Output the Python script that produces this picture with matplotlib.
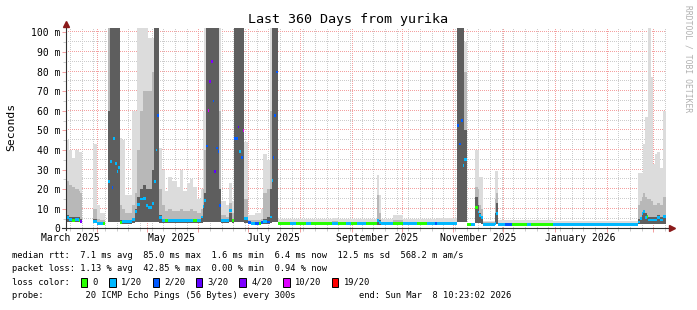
import datetime as dt
import numpy as np
import matplotlib
matplotlib.use('Agg')
import matplotlib.pyplot as plt
from matplotlib.patches import Rectangle

nan = np.nan

#------------------------------
#values (x in days since START, y in ms)
START = dt.datetime(2025, 3, 13, 10, 23, 2)
END_DAY = 360.0

seg_day = [0.6, 2.0, 3.8, 5.6, 7.7, 8.6, 9.6, 16.4, 18.6, 20.6,
           22.6, 23.8, 25.6, 26.6, 27.8, 28.6, 29.6, 30.6, 31.6, 32.6,
           33.6, 35.6, 39.6, 41.6, 42.8, 44.3, 46.4, 48.0, 49.6, 51.6,
           53.0, 54.2, 55.0, 55.8, 57.6, 59.6, 61.6, 63.8, 66.6, 68.6,
           70.6, 72.6, 74.6, 76.6, 78.6, 80.9, 82.1, 83.0, 84.2, 85.2,
           86.2, 87.2, 88.2, 89.2, 90.2, 91.2, 92.2, 93.2, 96.2, 98.0,
           99.8, 101.2, 103.1, 104.1, 105.1, 106.1, 107.1, 109.1, 111.2, 113.6,
           116.0, 117.2, 118.6, 120.6, 122.6, 123.6, 124.2, 125.2, 126.2, 127.1,
           127.6, 134.6, 138.2, 144.2, 147.2, 159.8, 163.4, 168.2, 171.2, 174.8,
           180.2, 186.5, 187.7, 188.9, 196.4, 202.4, 210.6, 216.6, 221.5, 223.0,
           234.5, 236.1, 237.1, 238.1, 239.1, 240.6, 243.2, 245.6, 247.1, 248.1,
           249.2, 250.6, 257.3, 258.2, 259.6, 263.6, 267.8, 276.8, 279.2, 292.4,
           343.6, 344.8, 345.8, 346.6, 347.6, 348.6, 349.5, 351.0, 352.2, 353.4,
           354.8, 356.4, 358.4]

median = [5.5, 4.5, 4.0, 4.5, 4.0, 3.6, nan, 3.5, 2.5, 2.3,
          2.3, nan, 24, 34, 21, 46, 33, 29, 31, 3.0,
          3.5, 3.5, 4.5, 8.5, 12, 15, 15.3, 11.7, 10.7, 12.7,
          24, 40, 57.6, 5.5, 3.8, 3.8, 3.8, 3.8, 3.8, 3.8,
          3.8, 3.8, 3.8, 3.8, 3.8, 5.8, 11, 14, 42, 60,
          75, 85, 65, 29, 41, 39, 11.7, 3.8, 3.8, 9,
          3.8, 46, 51.7, 39, 36, 50, 5, 2.8, 2.5, 2.5,
          2.5, 2.8, 3.5, 3.2, 5.8, 24.5, 36, 57.7, 79.7, 11,
          2.4, 2.4, 2.4, 2.4, 2.4, 2.4, 2.4, 2.4, 2.4, 2.4,
          2.4, 4, 3, 2.4, 2.4, 2.4, 2.4, 2.4, 2.4, 2.4,
          52.5, 43, 55, 32, 35, 2.0, 2.0, 10.5, 8.3, 6.6,
          5.6, 2.0, 2.5, 7.5, 2.0, 2.0, 1.9, 2.0, 2.0, 2.0,
          3.2, 5, 7.5, 8.5, 5.6, 6, 4.2, 4.2, 4.2, 4.2,
          5.6, 4.3, 6]

loss = [1, 1, 0, 1, 0, 4, 0, 1, 1, 1,
        0, 0, 1, 1, 2, 1, 1, 1, 1, 0,
        1, 1, 1, 1, 1, 1, 1, 1, 1, 1,
        1, 1, 2, 1, 1, 0, 1, 1, 1, 1,
        1, 1, 1, 0, 1, 1, 1, 1, 2, 5,
        4, 4, 2, 3, 2, 2, 2, 1, 1, 1,
        0, 2, 3, 1, 2, 5, 1, 2, 1, 2,
        0, 2, 1, 2, 1, 1, 2, 2, 2, 1,
        0, 1, 0, 1, 0, 1, 0, 1, 0, 1,
        0, 1, 1, 1, 0, 1, 0, 1, 2, 1,
        2, 2, 2, 1, 1, 0, 1, 0, 1, 1,
        1, 1, 1, 1, 1, 2, 0, 1, 0, 1,
        1, 1, 1, 1, 1, 0, 1, 1, 1, 1,
        1, 1, 1]

smoke_lo = [3, 3, 3, 3, 3, 3, nan, 2.5, 2, 2,
            2, nan, 3, 3, 3, 3, 3, 3, 3, 2,
            2, 2, 2.5, 3, 3, 3, 3, 3, 3, 3,
            3, 3, 3, 2.5, 2.5, 2.5, 2.5, 2.5, 2.5, 2.5,
            2.5, 2.5, 2.5, 2.5, 2.5, 2.5, 3, 3, 3, 3,
            3, 3, 3, 3, 3, 3, 3, 2.5, 2.5, 3,
            2.5, 3, 3, 3, 3, 3, 2.5, 2, 2, 2,
            2, 2, 2, 2, 2.5, 3, 3, 3, 3, 3,
            1.5, 1.5, 1.5, 1.5, 1.5, 1.5, 1.5, 1.5, 1.5, 1.5,
            1.5, 1.5, 1.5, 1.5, 1.5, 1.5, 1.5, 1.5, 1.5, 1.5,
            3, 3, 3, 3, 3, 1.8, 1.8, 2.5, 2.5, 2.5,
            2, 1.5, 2, 2, 1.2, 1.2, 1.2, 1.2, 1.2, 1.2,
            2, 2, 2, 2, 2, 2, 2, 2, 2, 2,
            2, 2, 2]

# lightest smoke top (max ping)
smoke_1 = [45, 40, 36, 40, 39, 39, nan, 43, 12, 8,
           8, nan, 102, 102, 102, 102, 102, 102, 102, 46,
           45, 17, 60, 60, 102, 102, 102, 102, 97, 97,
           102, 102, 102, 41, 30, 19, 26, 24, 21, 30,
           19, 23, 25, 21, 15, 20, 60, 102, 102, 102,
           102, 102, 102, 102, 102, 102, 102, 14, 12, 23,
           14, 102, 102, 102, 102, 102, 44, 7, 7, 8,
           8, 10, 38, 35, 102, 102, 102, 102, 102, 102,
           5, 4.5, 4.5, 4.5, 4.5, 5.5, 4.5, 4.5, 4.5, 4.5,
           4.5, 27, 17, 4.5, 7, 4.5, 4.5, 4.5, 4.5, 5.5,
           102, 102, 102, 102, 95, 2.8, 2.8, 40, 40, 26,
           26, 3.5, 29, 29, 4, 4, 4, 4, 4, 3.5,
           28, 28, 28, 43, 57, 57, 102, 77, 33, 38,
           39, 31, 60]

# middle smoke top
smoke_2 = [24, 22, 21, 20, 19, 18, nan, 10, 5, 4,
           4, nan, 102, 102, 102, 102, 102, 102, 102, 12,
           10, 8, 12, 18, 40, 60, 70, 70, 70, 80,
           102, 102, 102, 20, 12, 9, 10, 9, 9, 10,
           9, 9, 10, 9, 8, 10, 20, 40, 102, 102,
           102, 102, 102, 102, 102, 102, 60, 7, 6, 13,
           8, 102, 102, 102, 102, 102, 15, 4, 4, 4,
           4, 5, 18, 20, 60, 102, 102, 102, 102, 102,
           3.3, 3.2, 3.2, 3.2, 3.2, 3.5, 3.2, 3.2, 3.2, 3.2,
           3.2, 17, 8, 3.2, 4, 3.2, 3.2, 3.2, 3.2, 3.2,
           102, 102, 102, 102, 80, 2.5, 2.5, 21, 20, 12,
           10, 3, 15, 18, 2.8, 2.8, 2.8, 2.8, 2.8, 2.8,
           12, 14, 16, 18, 16, 15, 15, 14, 12, 12,
           13, 12, 16]

# dark smoke top
smoke_3 = [7, 6, 6, 6, 6, 5, nan, 4.5, 3, 3,
           3, nan, 60, 102, 102, 102, 102, 102, 102, 4,
           4, 4, 5.5, 10, 16, 20, 22, 20, 20, 30,
           102, 102, 102, 7, 5, 4.6, 4.6, 4.6, 4.6, 4.6,
           4.6, 4.6, 4.6, 4.6, 4.6, 6, 12, 18, 102, 102,
           102, 102, 102, 102, 102, 102, 20, 4.3, 4.3, 8,
           4.6, 102, 102, 102, 102, 102, 6, 3, 3, 3,
           3, 3, 5, 6, 20, 102, 102, 102, 102, 102,
           2.8, 2.8, 2.8, 2.8, 2.8, 2.8, 2.8, 2.8, 2.8, 2.8,
           2.8, 5, 4, 2.8, 3, 2.8, 2.8, 2.8, 2.8, 2.8,
           102, 102, 102, 102, 50, 2.3, 2.3, 16, 12, 8,
           6, 2.5, 8, 13, 2.3, 2.3, 2.3, 2.3, 2.3, 2.3,
           5, 6, 8, 9, 8, 7, 6, 6, 6, 6,
           7, 6, 7]

loss_colors = ['#26ff00', '#00b8ff', '#0059ff', '#5e00ff', '#7e00ff', '#dd00ff', '#ff0000']
loss_labels = ['0', '1/20', '2/20', '3/20', '4/20', '10/20', '19/20']

y_ticks = [0, 10, 20, 30, 40, 50, 60, 70, 80, 90, 100]
y_labels = ['0', '10 m', '20 m', '30 m', '40 m', '50 m', '60 m', '70 m', '80 m', '90 m', '100 m']
label_months = [(2025, 3), (2025, 5), (2025, 7), (2025, 9), (2025, 11), (2026, 1)]

title = 'Last 360 Days from yurika'
rtt_line = 'median rtt:  7.1 ms avg  85.0 ms max  1.6 ms min  6.4 ms now  12.5 ms sd  568.2 m am/s'
loss_line = 'packet loss: 1.13 % avg  42.85 % max  0.00 % min  0.94 % now'
probe_line = 'probe:        20 ICMP Echo Pings (56 Bytes) every 300s'
end_line = 'end: Sun Mar  8 10:23:02 2026'


#------------------------------
#helpers
W, H = 697, 310
PX_DAY = 600 / END_DAY     # pixels per day
PX_MS = 1.96               # pixels per ms
GRID = '#cccccc'
MGRID = '#f4a0a0'
SMOKE = ['#dcdcdc', '#b8b8b8', '#5e5e5e']
MONO = 'DejaVu Sans Mono'
plt.rcParams['font.family'] = MONO


def px(x, y):
    return x / W, 1 - y / H


def day_of(t):
    return (t - START).total_seconds() / 86400.0


def runs(idx):
    out, cur = [], []
    for i in idx:
        if cur and i != cur[-1] + 1:
            out.append(cur)
            cur = []
        cur.append(i)
    if cur:
        out.append(cur)
    return out


edges = seg_day + [END_DAY]


def step_fill(ax, idx, lower, upper, color, z):
    for r in runs(idx):
        xs = [edges[i] for i in r] + [edges[r[-1] + 1]]
        lo = [lower[i] for i in r] + [lower[r[-1]]]
        hi = [upper[i] for i in r] + [upper[r[-1]]]
        ax.fill_between(xs, lo, hi, step='post', color=color, lw=0, zorder=z)


def dotted_h(ax, ys, color):
    # one-pixel dots, every second pixel, like rrdtool's dashed grid
    xs = np.arange(0, END_DAY, 2 / PX_DAY)
    gx, gy = np.meshgrid(xs, ys)
    ax.plot(gx.ravel(), gy.ravel(), ls='none', marker=',', color=color, zorder=0.5)


def dotted_v(ax, xs, color):
    ys = np.arange(0, 102, 2 / PX_MS)
    gx, gy = np.meshgrid(xs, ys)
    ax.plot(gx.ravel(), gy.ravel(), ls='none', marker=',', color=color, zorder=0.5)


#------------------------------
#build graph
fig = plt.figure(figsize=(W / 100, H / 100), dpi=100)
fig.patch.set_facecolor('white')
ax = fig.add_axes([65.7 / W, (H - 228.3) / H, 600 / W, 200 / H])
ax.set_xlim(0, END_DAY)
ax.set_ylim(0, 200 / PX_MS)
for s in ax.spines.values():
    s.set_visible(False)

# grid
month_days = []
for k in range(1, 13):
    y, m = 2025 + (2 + k) // 12, (2 + k) % 12 + 1
    month_days.append(day_of(dt.datetime(y, m, 1)))
week_days = []
t = dt.datetime(2025, 3, 16)
while day_of(t) < END_DAY:
    week_days.append(day_of(t))
    t += dt.timedelta(days=7)
week_days = [d for d in week_days if min(abs(d - m) for m in month_days) > 0.3]

dotted_h(ax, np.arange(5, 101, 10), GRID)
dotted_v(ax, week_days, GRID)
dotted_h(ax, np.arange(10, 101, 10), MGRID)
dotted_v(ax, month_days, MGRID)

# smoke
valid = [i for i in range(len(seg_day)) if not np.isnan(median[i])]
step_fill(ax, valid, smoke_lo, smoke_1, SMOKE[0], 1)
step_fill(ax, valid, smoke_lo, smoke_2, SMOKE[1], 2)
step_fill(ax, valid, smoke_lo, smoke_3, SMOKE[2], 3)

# median coloured by loss
med = np.array(median, dtype=float)
for c, col in enumerate(loss_colors):
    idx = [i for i in valid if loss[i] == c]
    step_fill(ax, idx, list(med - 0.7), list(med + 0.7), col, 4)

# ticks
ax.set_yticks(y_ticks)
ax.set_yticklabels(y_labels)
ax.set_yticks(np.arange(5, 100, 10), minor=True)
ax.set_xticks(month_days)
ax.set_xticklabels([])
ax.set_xticks(week_days, minor=True)
ax.tick_params(which='major', length=3, width=0.72, color=MGRID, pad=1, labelsize=7)
ax.tick_params(which='minor', length=2, width=0.72, color=GRID)

for y, m in label_months:
    d = day_of(dt.datetime(y, m, 1)) + 15
    ax.text(d, -0.05, dt.datetime(y, m, 1).strftime('%B %Y'), fontsize=7,
            ha='center', va='center', transform=ax.get_xaxis_transform())

# axes with arrows
ax.plot([0, 0], [-0.01, 1.022], transform=ax.transAxes, color='#303030', lw=0.8,
        clip_on=False, zorder=6)
ax.plot([-0.007, 1.008], [0, 0], transform=ax.transAxes, color='#303030', lw=0.8,
        clip_on=False, zorder=6)
ax.plot(0, 1.024, marker='^', ms=4.5, color='#8b1a1a', transform=ax.transAxes,
        clip_on=False, zorder=7)
ax.plot(1.01, 0, marker='>', ms=4.5, color='#8b1a1a', transform=ax.transAxes,
        clip_on=False, zorder=7)

#------------------------------
#texts
fig.text(*px(348.5, 19), title, fontsize=9.6, ha='center', va='center')
fig.text(*px(11, 127), 'Seconds', fontsize=8.2, rotation=90, ha='center', va='center')
fig.text(*px(688, 59), 'RRDTOOL / TOBI OETIKER', fontsize=5.8, rotation=270,
         color='#b0b0b0', ha='center', va='center')

fs = 6.35
fig.text(*px(12.3, 255), rtt_line, fontsize=fs, va='center')
fig.text(*px(12.3, 268.5), loss_line, fontsize=fs, va='center')
fig.text(*px(12.3, 282.3), 'loss color:', fontsize=fs, va='center')
fig.text(*px(12.3, 296), probe_line, fontsize=fs, va='center')
fig.text(*px(359, 296), end_line, fontsize=fs, va='center')

box_x = [81, 109.3, 152.7, 196, 239.3, 283.3, 332]
for bx, col, lab in zip(box_x, loss_colors, loss_labels):
    x0, y0 = px(bx, 286.8)
    fig.add_artist(Rectangle((x0, y0), 6.3 / W, 9.2 / H, transform=fig.transFigure,
                             facecolor=col, edgecolor='black', lw=0.7))
    fig.text(*px(bx + 11.8, 282.3), lab, fontsize=fs, va='center')

fig.savefig('out.png', dpi=100)
